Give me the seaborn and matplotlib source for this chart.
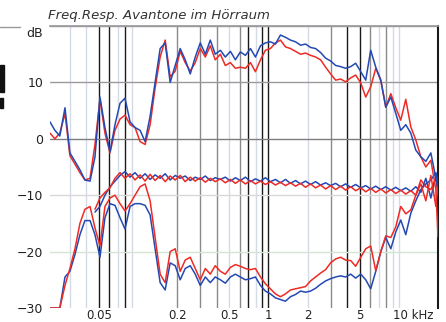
import matplotlib
matplotlib.use("Agg")
import matplotlib.pyplot as plt
import matplotlib.transforms as mtransforms
from matplotlib.patches import Rectangle
from matplotlib.lines import Line2D
from matplotlib.ticker import LogLocator, NullFormatter
import numpy as np
import seaborn as sns

# frequency grid in kHz (shared by all curves)
FREQ_KHZ = [
    0.0211, 0.0230, 0.0251, 0.0275, 0.0300, 0.0328, 0.0358, 0.0391, 0.0428, 0.0467,
    0.0510, 0.0557, 0.0609, 0.0665, 0.0727, 0.0794, 0.0868, 0.0948, 0.1036, 0.1132,
    0.1237, 0.1351, 0.1477, 0.1614, 0.1763, 0.1927, 0.2105, 0.2300, 0.2513, 0.2746,
    0.300, 0.328, 0.358, 0.391, 0.428, 0.467, 0.511, 0.558, 0.609, 0.666,
    0.728, 0.795, 0.869, 0.948, 1.036, 1.132, 1.237, 1.351, 1.477, 1.614,
    1.763, 1.927, 2.105, 2.300, 2.513, 2.746, 3.00, 3.28, 3.58, 3.91,
    4.28, 4.67, 5.11, 5.58, 6.09, 6.66, 7.28, 7.95, 8.69, 9.49,
    10.36, 11.32, 12.37, 13.51, 14.77, 16.13, 17.63, 19.26, 20.0,
]

nan = np.nan

# frequency response, blue / red channel (dB)
TOP_BLUE = [
    3.0, 1.5, 0.5, 5.5, -2.5, -4.0, -5.5, -7.3, -7.5, -3.2,
    7.4, 2.0, -2.3, 2.5, 6.3, 7.2, 3.0, 2.0, 1.5, -0.5,
    4.0, 10.0, 16.0, 17.0, 10.0, 13.0, 16.0, 14.0, 11.5, 14.5,
    17.0, 15.0, 17.5, 15.0, 15.7, 14.5, 15.5, 14.0, 15.4, 14.8,
    16.0, 14.5, 16.5, 17.0, 17.2, 16.8, 18.4, 18.0, 17.5, 17.2,
    16.6, 16.8, 16.2, 16.0, 15.3, 14.3, 13.8, 13.0, 12.8, 12.5,
    12.8, 13.4, 11.9, 10.4, 15.7, 12.7, 10.4, 5.6, 7.4, 4.5,
    1.5, 2.5, 1.0, -2.0, -3.2, -4.0, -2.5, -7.0, -8.5,
]
TOP_RED = [
    1.0, 0.0, 1.0, 4.5, -3.0, -4.5, -6.0, -7.3, -7.0, -1.0,
    7.0, 1.0, -2.5, 1.5, 3.5, 4.2, 2.5, 2.0, -0.5, -1.0,
    2.5, 9.0, 14.5, 17.5, 11.0, 12.0, 15.5, 13.5, 12.0, 13.5,
    16.0, 14.5, 16.5, 14.0, 15.0, 13.0, 13.5, 12.5, 12.7, 12.5,
    13.5, 11.9, 14.0, 15.7, 16.0, 17.0, 17.5, 16.3, 16.0, 15.5,
    15.0, 15.2, 14.8, 14.5, 14.0, 12.7, 11.5, 10.4, 10.6, 10.1,
    10.8, 11.3, 9.9, 7.4, 9.2, 12.5, 10.4, 5.6, 8.0, 5.5,
    3.3, 7.0, 2.1, -0.2, -3.2, -5.0, -3.8, -9.0, -17.4,
]

# second pair of traces around -7 dB
MID_BLUE = [
    nan, nan, nan, nan, nan, nan, nan, nan, nan, -13.0,
    -12.0, -10.0, -8.5, -7.5, -6.5, -5.8, -6.8, -6.0, -7.0, -6.2,
    -7.2, -6.4, -7.0, -6.2, -7.3, -6.5, -7.0, -6.6, -7.4, -6.8,
    -7.2, -6.6, -7.4, -6.9, -7.2, -6.8, -7.5, -6.9, -7.4, -6.8,
    -7.6, -7.1, -7.5, -6.9, -7.6, -7.2, -7.8, -7.2, -7.9, -7.4,
    -8.0, -7.5, -8.1, -7.6, -8.2, -7.8, -8.3, -7.9, -8.5, -8.0,
    -8.6, -8.1, -8.7, -8.3, -8.9, -8.4, -9.0, -8.5, -9.1, -8.6,
    -9.2, -8.7, -9.3, -8.5, -9.5, -7.0, -10.5, -6.5, -9.0,
]
MID_RED = [
    nan, nan, nan, nan, nan, nan, nan, nan, nan, -12.5,
    -10.5, -9.5, -8.7, -7.0, -6.0, -7.0, -6.2, -7.3, -6.4, -7.5,
    -6.3, -7.4, -6.5, -7.6, -6.6, -7.3, -6.5, -7.6, -6.8, -7.5,
    -6.9, -7.7, -7.0, -7.6, -7.1, -7.8, -7.2, -7.9, -7.3, -8.0,
    -7.4, -8.0, -7.5, -8.1, -7.6, -8.2, -7.7, -8.3, -7.8, -8.4,
    -7.9, -8.6, -8.0, -8.7, -8.2, -8.9, -8.3, -9.0, -8.4, -9.1,
    -8.5, -9.2, -8.7, -9.4, -8.8, -9.5, -8.9, -9.6, -9.0, -9.7,
    -9.1, -9.8, -9.2, -10.0, -8.0, -11.0, -6.5, -12.0, -8.0,
]

# third pair of traces, low level
LOW_BLUE = [
    -30.0, -30.0, -30.0, -24.5, -23.5, -20.5, -17.0, -14.5, -14.5, -17.0,
    -21.0, -14.0, -11.5, -11.8, -14.0, -16.0, -12.0, -11.5, -11.5, -11.8,
    -13.5, -19.5, -25.5, -26.8, -22.0, -22.5, -25.0, -23.0, -22.5, -24.0,
    -26.0, -24.5, -25.5, -24.5, -25.0, -25.6, -24.5, -24.0, -24.5, -25.0,
    -24.8, -24.5, -26.0, -27.0, -27.5, -28.2, -28.5, -28.8, -28.0, -27.6,
    -27.0, -27.2, -27.0, -26.5, -25.8, -25.2, -24.8, -24.5, -24.3, -24.5,
    -24.0, -24.7, -24.0, -25.0, -26.6, -23.5, -20.0, -17.5, -19.5, -16.5,
    -14.4, -17.0, -13.2, -11.0, -9.0, -8.0, -7.3, -6.0, -7.5,
]
LOW_RED = [
    -30.0, -30.0, -30.0, -26.0, -23.0, -19.5, -15.0, -12.5, -12.0, -15.8,
    -19.0, -12.0, -10.5, -10.0, -11.5, -12.8, -11.5, -10.0, -8.5, -8.0,
    -11.0, -17.5, -24.0, -25.5, -20.0, -19.5, -23.5, -21.5, -21.0, -23.0,
    -25.0, -23.0, -24.0, -22.5, -23.5, -24.0, -22.8, -22.3, -22.6, -23.0,
    -23.2, -23.0, -24.5, -25.7, -26.6, -27.5, -28.0, -27.5, -26.8, -26.6,
    -26.4, -26.2, -25.2, -24.5, -23.8, -23.2, -22.0, -21.3, -21.0, -21.5,
    -21.6, -22.6, -21.0, -19.5, -19.0, -23.4, -20.0, -17.2, -17.5, -15.6,
    -12.0, -13.3, -12.6, -10.0, -7.3, -8.5, -9.0, -7.0, -10.0,
]

X_TICKS = [0.05, 0.2, 0.5, 1, 2, 5, 10]
X_LABELS = ["0.05", "0.2", "0.5", "1", "2", "5", "10 kHz"]
Y_TICKS = [-30, -20, -10, 0, 10, 20]
Y_LABELS = ["\u221230", "\u221220", "\u221210", "0", "10", "dB"]
TITLE = "Freq.Resp. Avantone im H\u00f6rraum"

RED = "#ee2b24"
BLUE = "#2549b3"

# shading of the vertical grid lines, as they appear in the scan
DARK_GRID = [0.05, 0.06, 0.08, 0.7, 0.9, 1.0, 4.0, 5.0]
MID_GRID = [0.2, 0.3, 0.4, 0.6, 3.0, 6.0, 8.0]


def shift(label, fig, dx_px, dy_px):
    label.set_transform(label.get_transform() + mtransforms.ScaledTranslation(
        dx_px / 100, dy_px / 100, fig.dpi_scale_trans))


def main() -> None:
    sns.set_theme(style="white")
    plt.rcParams["font.family"] = ["DejaVu Sans"]

    fig = plt.figure(figsize=(4.46, 3.22), dpi=100)
    ax = fig.add_axes([50 / 446, 14 / 322, 388 / 446, 282 / 322])

    for vals, col in [(LOW_BLUE, BLUE), (LOW_RED, RED), (MID_BLUE, BLUE),
                      (MID_RED, RED), (TOP_RED, RED), (TOP_BLUE, BLUE)]:
        sns.lineplot(x=FREQ_KHZ, y=vals, color=col, lw=1.1, ax=ax,
                     estimator=None, zorder=3)

    ax.set_xscale("log")
    ax.set_xlim(0.0211, 20.0)
    ax.set_ylim(-30, 20)

    ax.set_xticks(X_TICKS)
    ax.set_xticklabels(X_LABELS)
    ax.xaxis.set_minor_locator(LogLocator(base=10, subs=np.arange(2, 10)))
    ax.xaxis.set_minor_formatter(NullFormatter())
    ax.set_yticks(Y_TICKS)
    ax.set_yticklabels(Y_LABELS)
    ax.tick_params(axis="both", which="both", length=0, colors="#222222")
    ax.tick_params(axis="x", pad=1, labelsize=8.5)
    ax.tick_params(axis="y", pad=5, labelsize=9)

    # the "10 kHz" label starts near the 10 kHz line
    last = ax.get_xticklabels()[-1]
    last.set_horizontalalignment("left")
    shift(last, fig, -6, 0)
    # "dB" sits a little below the top line
    shift(ax.get_yticklabels()[-1], fig, 0, -6)

    ax.grid(True, which="both", axis="x", lw=1.0)
    ax.grid(True, which="major", axis="y", lw=1.0)

    for tick in ax.xaxis.get_major_ticks() + ax.xaxis.get_minor_ticks():
        loc = tick.get_loc()
        if any(np.isclose(loc, d) for d in DARK_GRID):
            tick.gridline.set_color("#1a1a1a")
        elif any(np.isclose(loc, m) for m in MID_GRID):
            tick.gridline.set_color("#8a8a8a")
        else:
            tick.gridline.set_color("#d4dae6")
    ygrid = {-30: "none", -20: "#d3e6d3", -10: "#d8d8d8", 0: "#7d7d7d",
             10: "#9a9a9a", 20: "#9a9a9a"}
    for tick in ax.yaxis.get_major_ticks():
        tick.gridline.set_color(ygrid.get(int(round(tick.get_loc())), "#999999"))

    for side in ["bottom", "left"]:
        ax.spines[side].set_visible(False)
    ax.spines["top"].set_color("#9a9a9a")
    ax.spines["right"].set_color("#1a1a1a")
    ax.spines["right"].set_linewidth(1.5)

    fig.text(48 / 446, 1 - 16 / 322, TITLE, fontsize=9.5, fontstyle="italic",
             color="#333333", va="center", ha="left")

    # bits of the neighbouring figure cut off at the left edge
    fig.add_artist(Line2D([0, 20 / 446], [1 - 27 / 322, 1 - 27 / 322],
                          color="#999999", lw=1.0, transform=fig.transFigure))
    fig.add_artist(Rectangle((0, 1 - 92 / 322), 4 / 446, 27 / 322,
                             color="#111111", transform=fig.transFigure))
    fig.add_artist(Rectangle((0, 1 - 108 / 322), 3 / 446, 10 / 322,
                             color="#111111", transform=fig.transFigure))

    fig.savefig("out.png", dpi=100)
    plt.close(fig)


if __name__ == "__main__":
    main()
